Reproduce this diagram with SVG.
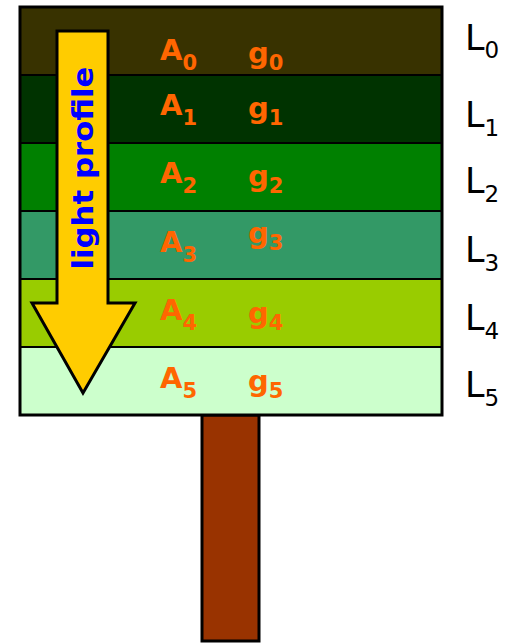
<svg xmlns="http://www.w3.org/2000/svg" width="509" height="643" viewBox="0 0 509 643">
<style>
.band{stroke:#000;stroke-width:2}
.lab{font-family:"DejaVu Sans",sans-serif;fill:#FF6600;font-size:29px;font-weight:bold}
.sub{font-size:21px}
.L{font-family:"DejaVu Sans",sans-serif;fill:#000;font-size:35px}
.Ls{font-size:23px}
</style>
<rect width="509" height="643" fill="#fff"/>
<g id="trunk"><rect x="202" y="415" width="57" height="226" fill="#993300" stroke="#000" stroke-width="3"/></g>
<g id="canopy">
<rect class="band" x="20" y="7" width="422" height="68" fill="#383200"/>
<rect class="band" x="20" y="75" width="422" height="68" fill="#003300"/>
<rect class="band" x="20" y="143" width="422" height="68" fill="#008000"/>
<rect class="band" x="20" y="211" width="422" height="68" fill="#339966"/>
<rect class="band" x="20" y="279" width="422" height="68" fill="#99CC00"/>
<rect class="band" x="20" y="347" width="422" height="68" fill="#CCFFCC"/>
<rect x="20" y="7" width="422" height="408" fill="none" stroke="#000" stroke-width="3"/>
</g>
<g id="arrow">
<polygon points="57,31 108,31 108,303 135,303 83,393 32,303 57,303" fill="#FFCC00" stroke="#000" stroke-width="3" stroke-linejoin="miter"/>
<text transform="translate(93,168) rotate(-90)" text-anchor="middle" font-family="DejaVu Sans,sans-serif" font-size="29" font-weight="bold" fill="#0000FF" textLength="203" lengthAdjust="spacingAndGlyphs">light profile</text>
</g>
<g id="labelsA">
<text class="lab" x="160" y="60">A<tspan class="sub" dy="10">0</tspan></text>
<text class="lab" x="160" y="115">A<tspan class="sub" dy="10">1</tspan></text>
<text class="lab" x="160" y="183">A<tspan class="sub" dy="10">2</tspan></text>
<text class="lab" x="160" y="252">A<tspan class="sub" dy="10">3</tspan></text>
<text class="lab" x="160" y="320">A<tspan class="sub" dy="10">4</tspan></text>
<text class="lab" x="160" y="388">A<tspan class="sub" dy="10">5</tspan></text>
</g>
<g id="labelsG">
<text class="lab" x="248" y="63">g<tspan class="sub" dy="7">0</tspan></text>
<text class="lab" x="248" y="118">g<tspan class="sub" dy="7">1</tspan></text>
<text class="lab" x="248" y="186">g<tspan class="sub" dy="7">2</tspan></text>
<text class="lab" x="248" y="243">g<tspan class="sub" dy="7">3</tspan></text>
<text class="lab" x="248" y="323">g<tspan class="sub" dy="7">4</tspan></text>
<text class="lab" x="248" y="391">g<tspan class="sub" dy="7">5</tspan></text>
</g>
<g id="labelsL">
<text class="L" x="465" y="50">L<tspan class="Ls" dy="8">0</tspan></text>
<text class="L" x="465" y="127">L<tspan class="Ls" dy="9">1</tspan></text>
<text class="L" x="465" y="193">L<tspan class="Ls" dy="9">2</tspan></text>
<text class="L" x="465" y="262">L<tspan class="Ls" dy="9">3</tspan></text>
<text class="L" x="465" y="330">L<tspan class="Ls" dy="9">4</tspan></text>
<text class="L" x="465" y="397">L<tspan class="Ls" dy="9">5</tspan></text>
</g>
</svg>
